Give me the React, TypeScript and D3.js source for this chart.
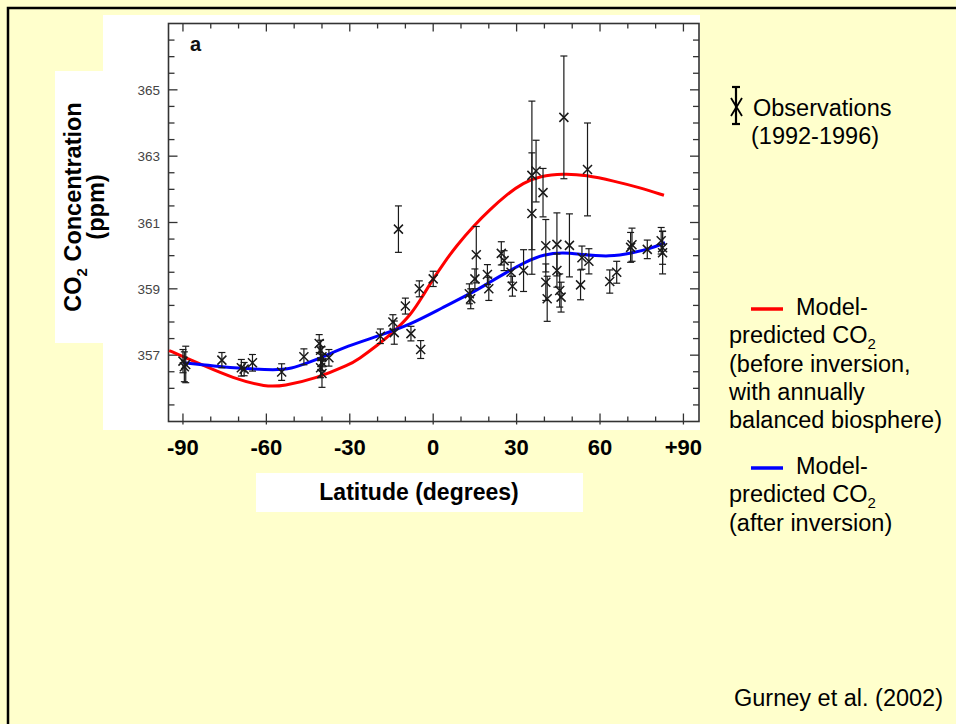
import { useEffect, useRef } from "react";
import * as d3 from "d3";

// observations (1992-1996): latitude, CO2 ppm, error bar half-length
const obsLat = [
  -90, -89.5, -89, -76, -69, -68, -65, -54.5, -46.5, -41, -40.5, -40, -40, -40.5, -40, -37.5,
  -19, -14.5, -14, -12.5, -10, -8, -5, -4.5, 0,
  13, 13.5, 15.5, 15, 19.5, 20, 24.5, 25.5, 28, 28.5, 32.5, 35.5, 35.5, 37, 39.5, 40.5, 40.5, 41,
  44.5, 44.5, 45.5, 46, 47, 49, 53.5, 53, 55.5, 56, 63.5, 66, 71.5, 71, 77, 82.5, 82.5, 82,
];
const obsCO2 = [
  356.82, 356.65, 356.72, 356.85, 356.62, 356.58, 356.77, 356.49, 356.95, 357.35, 357.15, 356.95, 356.78, 356.62, 356.45, 356.92,
  357.57, 358.0, 357.68, 360.8, 358.48, 357.65, 359.0, 357.17, 359.3,
  358.85, 358.7, 360.03, 359.3, 359.43, 359.0, 360.07, 359.85, 359.5, 359.08, 359.55, 362.42, 361.27, 362.55, 361.9, 360.3, 359.2, 358.7,
  360.34, 359.55, 358.95, 358.75, 364.17, 360.31, 359.94, 359.12, 362.6, 359.83, 359.22, 359.5, 360.33, 360.25, 360.19, 360.24, 360.09, 360.45,
];
const obsErr = [
  0.35, 0.45, 0.55, 0.23, 0.25, 0.2, 0.25, 0.25, 0.24, 0.27, 0.3, 0.3, 0.25, 0.3, 0.42, 0.25,
  0.22, 0.22, 0.35, 0.7, 0.24, 0.22, 0.24, 0.27, 0.23,
  0.3, 0.3, 0.85, 0.3, 0.3, 0.35, 0.35, 0.3, 0.3, 0.3, 0.63, 2.24, 1.83, 0.93, 0.73, 0.79, 0.55, 0.68,
  0.95, 0.5, 0.5, 0.45, 1.85, 0.95, 0.35, 0.45, 1.4, 0.38, 0.35, 0.33, 0.5, 0.45, 0.28, 0.5, 0.64, 0.4,
];

// model before inversion (red)
const redLat = [-95, -89, -84, -72, -60, -54, -42, -30, -27, -20, -14, -8, -4, 0, 4, 8.4, 14.4, 20.4, 26.4, 32.4, 38.4, 46.8, 55, 65, 74, 83];
const redCO2 = [357.14, 356.92, 356.74, 356.3, 356.04, 356.07, 356.3, 356.72, 356.87, 357.3, 357.72, 358.22, 358.75, 359.3, 359.8, 360.3, 360.89, 361.39, 361.84, 362.2, 362.4, 362.47, 362.43, 362.25, 362.06, 361.82];

// model after inversion (blue)
const blueLat = [-90, -79, -67, -57, -51, -45, -39, -31, -20, -8, 3, 14, 20, 26, 33.6, 39.6, 46.8, 53, 63.6, 72, 78, 83.4];
const blueCO2 = [356.77, 356.67, 356.59, 356.55, 356.59, 356.77, 356.97, 357.27, 357.57, 357.93, 358.42, 358.88, 359.18, 359.48, 359.83, 360.04, 360.1, 360.04, 359.96, 360.09, 360.21, 360.39];

const xTickValues = [-90, -60, -30, 0, 30, 60, 90];
const xTickLabels = ["-90", "-60", "-30", "0", "30", "60", "+90"];
const yTickValues = [357, 359, 361, 363, 365];

const FONT = "'Liberation Sans', Arial, Helvetica, sans-serif";

function App() {
  const ref = useRef<SVGSVGElement | null>(null);

  useEffect(() => {
    const svg = d3.select(ref.current);
    svg.selectAll("*").remove();

    // slide background + border
    svg.append("rect").attr("width", 956).attr("height", 724).attr("fill", "#ffffcc");
    svg.append("rect").attr("x", 8).attr("y", 8).attr("width", 980).attr("height", 760)
      .attr("fill", "none").attr("stroke", "#000").attr("stroke-width", 2.5);

    // pasted figure (white areas)
    svg.append("rect").attr("x", 103).attr("y", 15).attr("width", 597).attr("height", 415).attr("fill", "#fff");
    svg.append("rect").attr("x", 55).attr("y", 71).attr("width", 50).attr("height", 272).attr("fill", "#fff");
    svg.append("rect").attr("x", 256).attr("y", 473).attr("width", 327).attr("height", 39).attr("fill", "#fff");

    const left = 168.5, right = 699, top = 23.5, bottom = 421.5;
    const x = d3.scaleLinear().domain([-95.2, 95.6]).range([left, right]);
    const y = d3.scaleLinear().domain([355, 367]).range([bottom, top]);

    const g = svg.append("g");
    const axisColor = "#333";

    // x ticks (bottom and top, pointing inward)
    d3.range(-90, 91, 10).forEach((v) => {
      const major = v % 30 === 0;
      const len = major ? 8 : 5;
      g.append("line").attr("x1", x(v)).attr("x2", x(v))
        .attr("y1", bottom + (major ? 3 : 0)).attr("y2", bottom - len)
        .attr("stroke", axisColor).attr("stroke-width", 1.3);
      g.append("line").attr("x1", x(v)).attr("x2", x(v))
        .attr("y1", top).attr("y2", top + len)
        .attr("stroke", axisColor).attr("stroke-width", 1.3);
    });

    // y ticks (left and right, inward)
    d3.range(355.5, 367, 0.5).forEach((v) => {
      const major = yTickValues.includes(v);
      const len = major ? 9 : 6;
      g.append("line").attr("x1", left).attr("x2", left + len)
        .attr("y1", y(v)).attr("y2", y(v))
        .attr("stroke", axisColor).attr("stroke-width", 1.3);
      g.append("line").attr("x1", right).attr("x2", right - len)
        .attr("y1", y(v)).attr("y2", y(v))
        .attr("stroke", axisColor).attr("stroke-width", 1.3);
    });

    g.append("rect").attr("x", left).attr("y", top).attr("width", right - left).attr("height", bottom - top)
      .attr("fill", "none").attr("stroke", axisColor).attr("stroke-width", 1.6);

    // y tick labels
    g.selectAll("text.ylab").data(yTickValues).enter().append("text")
      .attr("x", 160).attr("y", (d) => y(d) + 5)
      .attr("text-anchor", "end").attr("font-family", FONT).attr("font-size", 13.5)
      .attr("fill", "#444").text((d) => String(d));

    // panel letter
    g.append("text").attr("x", 190).attr("y", 51).attr("font-family", FONT)
      .attr("font-size", 20).attr("font-weight", "bold").attr("fill", "#111").text("a");

    // x tick labels (slide text)
    g.selectAll("text.xlab").data(xTickValues).enter().append("text")
      .attr("x", (d) => x(d)).attr("y", 455)
      .attr("text-anchor", "middle").attr("font-family", FONT).attr("font-size", 22)
      .attr("font-weight", "bold").attr("fill", "#000")
      .text((d, i) => xTickLabels[i]);

    // model curves
    const line = d3.line<[number, number]>()
      .x((d) => x(d[0])).y((d) => y(d[1]))
      .curve(d3.curveBasis);

    g.append("path").datum(redLat.map((v, i) => [v, redCO2[i]] as [number, number]))
      .attr("d", line).attr("fill", "none").attr("stroke", "#ff0000").attr("stroke-width", 3);
    g.append("path").datum(blueLat.map((v, i) => [v, blueCO2[i]] as [number, number]))
      .attr("d", line).attr("fill", "none").attr("stroke", "#0000ff").attr("stroke-width", 3);

    // observations with error bars
    const obs = obsLat.map((lat, i) => ({ lat, v: obsCO2[i], e: obsErr[i] }));
    const og = g.append("g").attr("stroke", "#1a1a1a").attr("fill", "none");
    obs.forEach((d) => {
      const cx = x(d.lat);
      const y0 = y(d.v - d.e), y1 = y(d.v + d.e);
      og.append("line").attr("x1", cx).attr("x2", cx).attr("y1", y0).attr("y2", y1).attr("stroke-width", 1.2);
      og.append("line").attr("x1", cx - 3.5).attr("x2", cx + 3.5).attr("y1", y0).attr("y2", y0).attr("stroke-width", 1.2);
      og.append("line").attr("x1", cx - 3.5).attr("x2", cx + 3.5).attr("y1", y1).attr("y2", y1).attr("stroke-width", 1.2);
      const cy = y(d.v), s = 4.5;
      og.append("path").attr("d", `M${cx - s},${cy - s}L${cx + s},${cy + s}M${cx - s},${cy + s}L${cx + s},${cy - s}`)
        .attr("stroke-width", 1.5);
    });

    // axis titles
    const yTitle = svg.append("text").attr("transform", "translate(81,207) rotate(-90)")
      .attr("text-anchor", "middle").attr("font-family", FONT).attr("font-size", 23.5)
      .attr("font-weight", "bold").attr("fill", "#000");
    yTitle.append("tspan").text("CO");
    yTitle.append("tspan").attr("font-size", 15).attr("dy", 6).text("2");
    yTitle.append("tspan").attr("dy", -6).text(" Concentration");
    svg.append("text").attr("transform", "translate(104,207) rotate(-90)")
      .attr("text-anchor", "middle").attr("font-family", FONT).attr("font-size", 23.5)
      .attr("font-weight", "bold").attr("fill", "#000").text("(ppm)");

    svg.append("text").attr("x", 419).attr("y", 500).attr("text-anchor", "middle")
      .attr("font-family", FONT).attr("font-size", 23).attr("font-weight", "bold")
      .attr("fill", "#000").text("Latitude (degrees)");

    // legend
    const lg = svg.append("g").attr("font-family", FONT).attr("font-size", 23.5).attr("fill", "#000");
    lg.append("line").attr("x1", 736).attr("x2", 736).attr("y1", 87).attr("y2", 124)
      .attr("stroke", "#000").attr("stroke-width", 2.2);
    lg.append("line").attr("x1", 732).attr("x2", 740).attr("y1", 87).attr("y2", 87).attr("stroke", "#000").attr("stroke-width", 2.2);
    lg.append("line").attr("x1", 732).attr("x2", 740).attr("y1", 124).attr("y2", 124).attr("stroke", "#000").attr("stroke-width", 2.2);
    lg.append("path").attr("d", "M731,98L742,116M742,98L731,116").attr("stroke", "#000").attr("stroke-width", 1.8);
    lg.append("text").attr("x", 753).attr("y", 116).text("Observations");
    lg.append("text").attr("x", 751).attr("y", 144).text("(1992-1996)");

    const modelEntry = (color: string, ly: number, lines: string[]) => {
      lg.append("line").attr("x1", 751).attr("x2", 783).attr("y1", ly).attr("y2", ly)
        .attr("stroke", color).attr("stroke-width", 3.5);
      lg.append("text").attr("x", 796).attr("y", ly + 6).text("Model-");
      const t = lg.append("text").attr("x", 729).attr("y", ly + 34);
      t.append("tspan").text("predicted CO");
      t.append("tspan").attr("font-size", 15).attr("dy", 6).text("2");
      lines.forEach((s, i) => {
        lg.append("text").attr("x", 729).attr("y", ly + 62.5 + i * 28.3).text(s);
      });
    };
    modelEntry("#ff0000", 309, ["(before inversion,", "with annually", "balanced biosphere)"]);
    modelEntry("#0000ff", 468, ["(after inversion)"]);

    svg.append("text").attr("x", 943).attr("y", 706).attr("text-anchor", "end")
      .attr("font-family", FONT).attr("font-size", 23.5).attr("fill", "#000").text("Gurney et al. (2002)");
  }, []);

  return (
    <svg ref={ref} width={956} height={724} style={{ position: "absolute", left: 0, top: 0 }} />
  );
}

export default App;
